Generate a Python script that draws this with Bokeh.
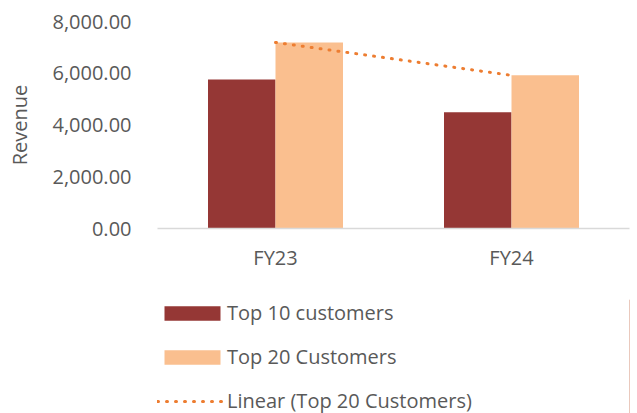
from bokeh.plotting import figure
from bokeh.models import ColumnDataSource, FactorRange, Range1d, NumeralTickFormatter, FixedTicker, Legend, LegendItem
from bokeh.layouts import column
from bokeh.transform import dodge
from bokeh.embed import file_html
from bokeh.resources import INLINE

categories = ["FY23", "FY24"]
top10 = [5760, 4490]
top20 = [7190, 5920]
y_ticks = [0, 2000, 4000, 6000, 8000]
series_names = ["Top 10 customers", "Top 20 Customers", "Linear (Top 20 Customers)"]

FONT = "Open Sans"
FS = "20px"
TXT = "#595959"
DARK = "#953735"
LIGHT = "#FABF8F"
TREND = "#ED7D31"

src = ColumnDataSource(data=dict(cat=categories, top10=top10, top20=top20))

p = figure(width=637, height=280, x_range=FactorRange(*categories, range_padding=0),
           y_range=Range1d(0, 8000), output_backend="svg", toolbar_location=None,
           min_border_left=157, min_border_right=8, min_border_top=21, min_border_bottom=52)
p.outline_line_color = None
p.xgrid.visible = False
p.ygrid.visible = False

p.vbar(x=dodge("cat", -0.143, range=p.x_range), top="top10", width=0.286, source=src,
       fill_color=DARK, line_color=None)
p.vbar(x=dodge("cat", 0.143, range=p.x_range), top="top20", width=0.286, source=src,
       fill_color=LIGHT, line_color=None)
p.line(x="cat", y="top20", source=src, line_color=TREND, line_width=3,
       line_dash="1 8", line_cap="round")

ya = p.yaxis[0]
ya.ticker = FixedTicker(ticks=y_ticks)
ya.formatter = NumeralTickFormatter(format="0,0.00")
ya.axis_line_color = None
ya.major_tick_line_color = None
ya.minor_tick_line_color = None
ya.major_label_text_font = FONT
ya.major_label_text_font_size = FS
ya.major_label_text_color = TXT
ya.major_label_standoff = 20
ya.axis_label = "Revenue"
ya.axis_label_text_font = FONT
ya.axis_label_text_font_size = "20px"
ya.axis_label_text_font_style = "normal"
ya.axis_label_text_color = TXT
ya.axis_label_standoff = 16

xa = p.xaxis[0]
xa.axis_line_color = "#D9D9D9"
xa.axis_line_width = 1.5
xa.major_tick_line_color = None
xa.minor_tick_line_color = None
xa.major_label_text_font = FONT
xa.major_label_text_font_size = FS
xa.major_label_text_color = TXT
xa.major_label_standoff = 9

# legend-only figure below the chart
lf = figure(width=637, height=133, output_backend="svg", toolbar_location=None,
            x_range=Range1d(0, 1), y_range=Range1d(0, 1),
            x_axis_location=None, y_axis_location=None,
            min_border_left=157, min_border_right=0, min_border_top=19, min_border_bottom=0)
lf.grid.visible = False
lf.outline_line_color = None
offscreen = ColumnDataSource(data=dict(x=[5], y=[5]))
d1 = lf.vbar(x="x", top="y", width=0.1, source=offscreen, fill_color=DARK, line_color=None)
d2 = lf.vbar(x="x", top="y", width=0.1, source=offscreen, fill_color=LIGHT, line_color=None)
d3 = lf.line(x="x", y="y", source=offscreen, line_color=TREND, line_width=3,
             line_dash="1 8", line_cap="round")

legend = Legend(items=[
    LegendItem(label=series_names[0], renderers=[d1]),
    LegendItem(label=series_names[1], renderers=[d2]),
    LegendItem(label=series_names[2], renderers=[d3]),
], location="top_left", orientation="vertical")
legend.glyph_width = 70
legend.glyph_height = 18
legend.label_standoff = 0
legend.label_height = 24
legend.spacing = 17
legend.padding = 0
legend.margin = 0
legend.border_line_color = None
legend.background_fill_alpha = 0
legend.label_text_font = FONT
legend.label_text_font_size = FS
legend.label_text_color = TXT
lf.add_layout(legend, "center")

layout = column(p, lf, spacing=0)
open("out.html", "w").write(file_html(layout, INLINE))
